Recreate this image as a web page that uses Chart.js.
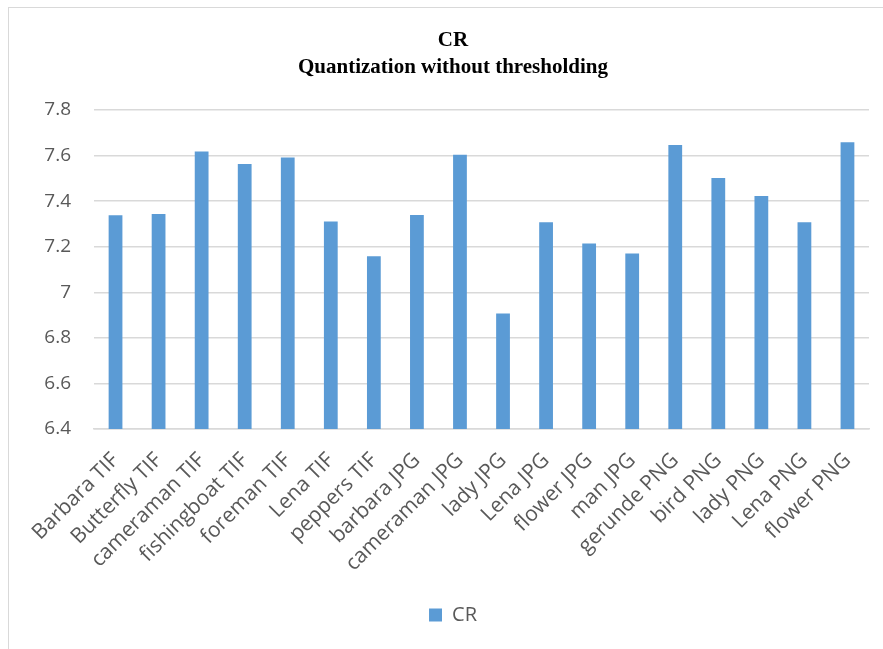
<!DOCTYPE html>
<html>
<head>
<meta charset="utf-8">
<script src="https://cdn.jsdelivr.net/npm/chart.js@4.4.1/dist/chart.umd.min.js"></script>
<style>
  html, body { margin: 0; padding: 0; background: #fff; overflow: hidden; }
  #frame {
    position: absolute; left: 8px; top: 7px;
    width: 890px; height: 660px;
    border-left: 1px solid #d9d9d9; border-top: 1px solid #d9d9d9;
  }
  #wrap { position: absolute; left: 0; top: 0; width: 890px; height: 642px; }
</style>
</head>
<body>
<div id="frame"><div id="wrap"><canvas id="crChart"></canvas></div></div>
<script>
// Image names and their compression ratio
const images = [
  'Barbara TIF', 'Butterfly TIF', 'cameraman TIF', 'fishingboat TIF', 'foreman TIF',
  'Lena TIF', 'peppers TIF', 'barbara JPG', 'cameraman JPG', 'lady JPG',
  'Lena JPG', 'flower JPG', 'man JPG', 'gerunde PNG', 'bird PNG',
  'lady PNG', 'Lena PNG', 'flower PNG'
];
const crValues = [
  7.338, 7.344, 7.618, 7.563, 7.592,
  7.311, 7.158, 7.339, 7.604, 6.907,
  7.307, 7.214, 7.170, 7.646, 7.502,
  7.423, 7.307, 7.658
];
const yTicks = [6.4, 6.6, 6.8, 7, 7.2, 7.4, 7.6, 7.8];
const titleLines = ['CR', 'Quantization without thresholding'];

const labelColor = '#595959';
const gridColor = '#d9d9d9';
const barColor = '#5b9bd5';
const sansFamily = '"Open Sans", sans-serif';

const ctx = document.getElementById('crChart').getContext('2d');

new Chart(ctx, {
  type: 'bar',
  data: {
    labels: images,
    datasets: [{
      label: 'CR',
      data: crValues,
      backgroundColor: barColor,
      borderWidth: 0,
      categoryPercentage: 0.8,
      barPercentage: 0.4
    }]
  },
  options: {
    responsive: true,
    maintainAspectRatio: false,
    animation: false,
    layout: { padding: { top: 0, left: 28, right: 30, bottom: 15 } },
    plugins: {
      title: {
        display: true,
        text: titleLines,
        color: '#000',
        font: { family: '"Liberation Serif", "Times New Roman", serif', size: 21, weight: 'bold', lineHeight: 1.286 },
        padding: { top: 19, bottom: 29 }
      },
      legend: {
        position: 'bottom',
        labels: {
          boxWidth: 13,
          boxHeight: 13,
          color: labelColor,
          font: { family: sansFamily, size: 20 }
        }
      },
      tooltip: { enabled: false }
    },
    scales: {
      x: {
        grid: { display: false, drawTicks: false },
        border: { display: true, color: gridColor, width: 1.5 },
        ticks: {
          color: labelColor,
          font: { family: sansFamily, size: 21 },
          minRotation: 45,
          maxRotation: 45,
          padding: 19,
          autoSkip: false
        },
        afterFit: (scale) => { scale.height = 166; }
      },
      y: {
        min: 6.4,
        max: 7.8,
        grid: { color: gridColor, lineWidth: 1.5, drawTicks: false },
        border: { display: false },
        afterBuildTicks: (scale) => {
          scale.ticks = yTicks.map(v => ({ value: v }));
        },
        ticks: {
          color: labelColor,
          font: { family: sansFamily, size: 19 },
          padding: 23,
          callback: (v) => String(Math.round(v * 10) / 10)
        },
        afterFit: (scale) => { scale.width = 57; }
      }
    }
  }
});
</script>
</body>
</html>
